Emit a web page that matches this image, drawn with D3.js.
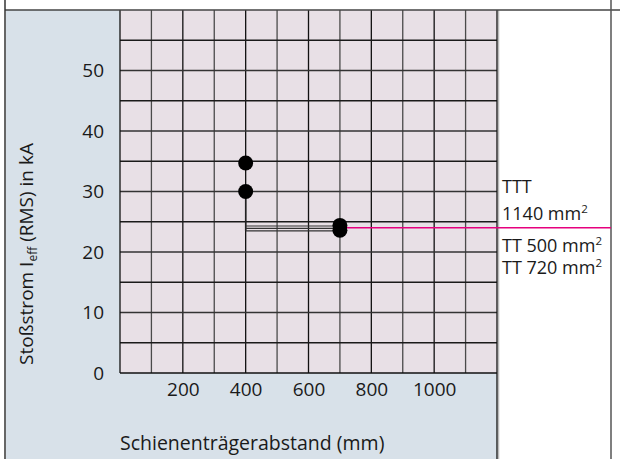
<!DOCTYPE html>
<html>
<head>
<meta charset="utf-8">
<script src="https://cdn.jsdelivr.net/npm/d3@7"></script>
<style>
  body { margin: 0; background: #fff; }
  text { font-family: "Open Sans", sans-serif; fill: #1a1a1a; }
</style>
</head>
<body>
<svg width="620" height="459"></svg>
<script>
// data
const xTicks = [200, 400, 600, 800, 1000];
const yTicks = [0, 10, 20, 30, 40, 50];
const pointX = [400, 400, 700, 700];
const pointY = [34.7, 30, 24.4, 23.6];
const linkY = [24.3, 23.9, 23.5];       // the three thin lines from 400 to 700
const pinkY = 24;                        // TTT 1140 mm2 limit
const labels = [
  {t: "TTT", sup: ""},
  {t: "1140 mm", sup: "2"},
  {t: "TT 500 mm", sup: "2"},
  {t: "TT 720 mm", sup: "2"}
];

const svg = d3.select('svg');
const W = +svg.attr('width'), H = +svg.attr('height');

const x = d3.scaleLinear().domain([0, 1200]).range([120, 497]);
const y = d3.scaleLinear().domain([0, 60]).range([373, 10]);

// panels
svg.append('rect').attr('x', 6).attr('y', 10).attr('width', 491).attr('height', H - 10)
  .attr('fill', '#d8e1e9');
svg.append('rect').attr('x', x(0)).attr('y', y(60)).attr('width', x(1200) - x(0)).attr('height', y(0) - y(60))
  .attr('fill', '#e8e0e6');

// grid
const g = svg.append('g');
g.selectAll('.vx').data(d3.range(100, 1200, 100)).enter().append('line')
  .attr('x1', d => x(d)).attr('x2', d => x(d)).attr('y1', y(60)).attr('y2', y(0))
  .attr('stroke', d => d % 200 === 0 ? '#111' : '#4a4a4a').attr('stroke-width', 1.3);
g.selectAll('.hy').data(d3.range(5, 60, 5)).enter().append('line')
  .attr('x1', x(0)).attr('x2', x(1200)).attr('y1', d => y(d)).attr('y2', d => y(d))
  .attr('stroke', d => d % 10 === 0 ? '#333' : '#1a1a1a').attr('stroke-width', 1.3);
// grid border
g.append('line').attr('x1', x(0)).attr('x2', x(0)).attr('y1', y(60)).attr('y2', y(0)).attr('stroke', '#111').attr('stroke-width', 1.3);
g.append('line').attr('x1', x(0)).attr('x2', x(1200)).attr('y1', y(0)).attr('y2', y(0)).attr('stroke', '#111').attr('stroke-width', 1.3);
g.append('line').attr('x1', x(1200) + 1.5).attr('x2', x(1200) + 1.5).attr('y1', 10).attr('y2', H).attr('stroke', '#bbb').attr('stroke-width', 1.5);
g.append('line').attr('x1', x(1200)).attr('x2', x(1200)).attr('y1', 10).attr('y2', H).attr('stroke', '#111').attr('stroke-width', 1.3);

// outer frame
svg.append('line').attr('x1', 5).attr('x2', W).attr('y1', 10).attr('y2', 10).attr('stroke', '#444').attr('stroke-width', 1.5);
svg.append('line').attr('x1', 5).attr('x2', 5).attr('y1', 0).attr('y2', H).attr('stroke', '#333').attr('stroke-width', 1.5);
svg.append('line').attr('x1', 611).attr('x2', 611).attr('y1', 0).attr('y2', H).attr('stroke', '#555').attr('stroke-width', 1.5);

// axes (labels only)
const xAxis = svg.append('g').attr('transform', `translate(0,${y(0)})`)
  .call(d3.axisBottom(x).tickValues(xTicks).tickFormat(d3.format('d')).tickSize(0).tickPadding(9.5));
const yAxis = svg.append('g').attr('transform', `translate(${x(0)},0)`)
  .call(d3.axisLeft(y).tickValues(yTicks).tickFormat(d3.format('d')).tickSize(0).tickPadding(16));
[xAxis, yAxis].forEach(a => {
  a.select('.domain').remove();
  a.selectAll('text').attr('font-size', 19).attr('font-family', '"Open Sans", sans-serif').attr('fill', '#1a1a1a');
});

// axis titles
svg.append('text').attr('x', 120).attr('y', 450).attr('font-size', 19.5)
  .text('Schienenträgerabstand (mm)');
const yt = svg.append('text').attr('transform', 'translate(33,254) rotate(-90)')
  .attr('text-anchor', 'middle').attr('font-size', 19);
yt.append('tspan').text('Stoßstrom I');
yt.append('tspan').attr('font-size', 12).attr('dy', 4).text('eff');
yt.append('tspan').attr('dy', -4).text(' (RMS) in kA');

// connecting lines
const lines = svg.append('g');
lines.append('line').attr('x1', x(400)).attr('x2', x(400)).attr('y1', y(30)).attr('y2', y(d3.min(linkY)))
  .attr('stroke', '#222').attr('stroke-width', 1.5);
lines.selectAll('.lk').data(linkY).enter().append('line')
  .attr('x1', x(400)).attr('x2', x(700)).attr('y1', d => y(d)).attr('y2', d => y(d))
  .attr('stroke', '#333').attr('stroke-width', 1.2);
lines.append('line').attr('x1', x(700)).attr('x2', 611).attr('y1', y(pinkY)).attr('y2', y(pinkY))
  .attr('stroke', '#e6007e').attr('stroke-width', 1.5);

// points
svg.selectAll('.pt').data(pointX.map((d, i) => [d, pointY[i]])).enter().append('circle')
  .attr('cx', d => x(d[0])).attr('cy', d => y(d[1])).attr('r', 7.5).attr('fill', '#000');

// right labels
const labY = [193, 220, 252, 274];
labels.forEach((l, i) => {
  const t = svg.append('text').attr('x', 502).attr('y', labY[i]).attr('font-size', 18);
  t.append('tspan').text(l.t);
  if (l.sup) t.append('tspan').attr('font-size', 11.5).attr('dy', -7).text(l.sup);
});
</script>
</body>
</html>
